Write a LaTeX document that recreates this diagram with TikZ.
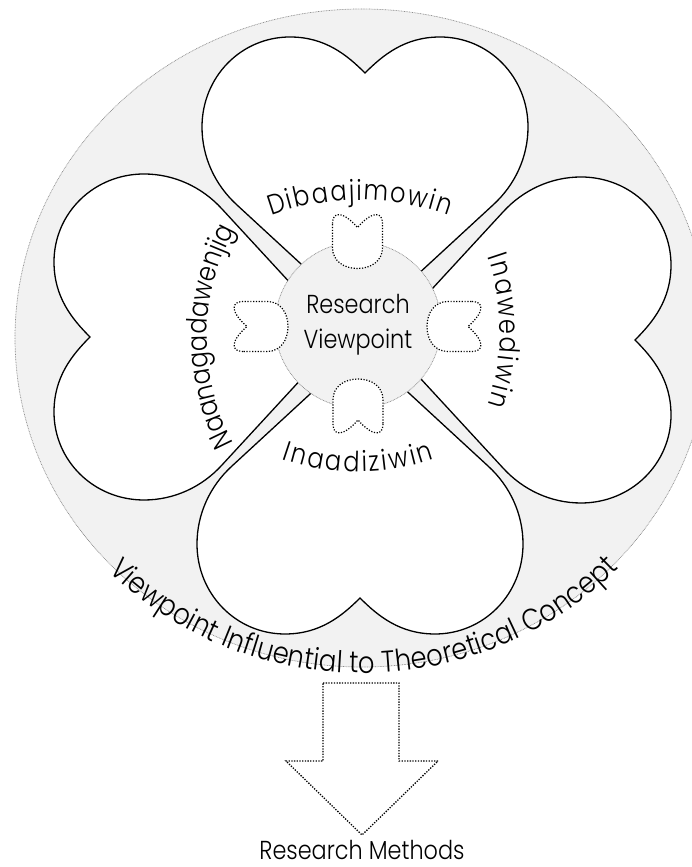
\documentclass[tikz,border=0pt]{standalone}
\usepackage{fontspec}
\newfontfamily\geofont[FakeStretch=0.86, UprightFont={* Light}]{Poppins}
\usetikzlibrary{decorations.text}
\definecolor{paper}{HTML}{F2F2F2}
\definecolor{rim}{HTML}{8C8C8C}

\newcommand{\ringfont}{\geofont\fontsize{26}{35}\selectfont}
\newcommand{\bendfont}{\geofont\fontsize{28}{35}\selectfont}
\newcommand{\rimfont}{\geofont\fontsize{30}{35}\selectfont}
% one heart, cusp at the origin, tip pointing down
\newcommand{\petalpath}{(0,-250) -- (-128,-132) .. controls (-150,-112) and (-163,-84) .. (-163,-54) .. controls (-163,-4) and (-124,36) .. (-75,36) .. controls (-40,36) and (-18,18) .. (0,0) .. controls (18,18) and (40,36) .. (75,36) .. controls (124,36) and (163,-4) .. (163,-54) .. controls (163,-84) and (150,-112) .. (128,-132) -- cycle}
% small notched shape, round end pointing down
\newcommand{\toothpath}{(-25,18) .. controls (-25,31) and (-14,30) .. (0,14) .. controls (14,30) and (25,31) .. (25,18) -- (25,-6) .. controls (25,-20) and (13,-27) .. (0,-27) .. controls (-13,-27) and (-25,-20) .. (-25,-6) -- cycle}

\tikzset{
  ringback/.style={fill=paper, draw=rim, line width=0.7pt, dash pattern=on 0.8pt off 0.8pt},
  petal/.style={fill=white, draw=black, line width=1.3pt},
  tooth/.style={fill=white, draw=black, line width=1.2pt, dash pattern=on 1.2pt off 1.6pt},
  hub/.style={circle, fill=paper, draw=rim, line width=0.7pt, dash pattern=on 0.8pt off 0.8pt, minimum size=166pt, inner sep=0pt, align=center, font=\ringfont},
  arrowbox/.style={draw=black, line width=1.3pt, dash pattern=on 1.3pt off 1.4pt},
  caption/.style={inner sep=0pt, font=\ringfont},
  bend text/.style={decorate, decoration={text along path, text align={fit to path}, text={|\bendfont|#1}}}
}

\begin{document}
\begin{tikzpicture}[x=1pt, y=1pt]
\useasboundingbox (0,0) rectangle (692,867);

% outer ring
\draw[ringback] (362,529) ellipse [x radius=347pt, y radius=329pt];

% four hearts
\draw[petal, shift={(365,794)}] \petalpath;
\draw[petal, shift={(90,530)}, rotate=90] \petalpath;
\draw[petal, shift={(635,527)}, rotate=-90] \petalpath;
\draw[petal, shift={(360,269)}, rotate=180] \petalpath;

% centre
\node[hub] (hub) at (358,542) {Research\\Viewpoint};

\draw[tooth, shift={(357.5,625.5)}] \toothpath;
\draw[tooth, shift={(358,461)}, rotate=180] \toothpath;
\draw[tooth, shift={(261,540.5)}, rotate=90] \toothpath;
\draw[tooth, shift={(454,540.5)}, rotate=-90] \toothpath;

% curved labels
\path[bend text=Dibaajimowin, shift={(360,407)}] (110:260) arc[start angle=110, end angle=70, radius=260pt];
\path[bend text=Naanagadawenjig, shift={(432,529)}] (208:225) arc[start angle=208, end angle=152, radius=225pt];
\path[bend text=Inawediwin, shift={(272,536)}] (19:228) arc[start angle=19, end angle=-19, radius=228pt];
\path[bend text=Inaadiziwin, shift={(358,629)}] (251:234) arc[start angle=251, end angle=289, radius=234pt];
\path[decorate, decoration={text along path, text align={fit to path}, raise=-6pt, text={|\rimfont|Viewpoint Influential to Theoretical Concept}}, shift={(362,529)}] (224:347 and 329) arc[start angle=224, end angle=316, x radius=347pt, y radius=329pt];

% arrow down to the methods
\draw[arrowbox] (323,184) -- (399,184) -- (399,106) -- (438,106) -- (362,32) -- (286,106) -- (323,106) -- cycle;
\node[caption, anchor=base] (methods) at (362,8) {Research Methods};
\end{tikzpicture}
\end{document}
